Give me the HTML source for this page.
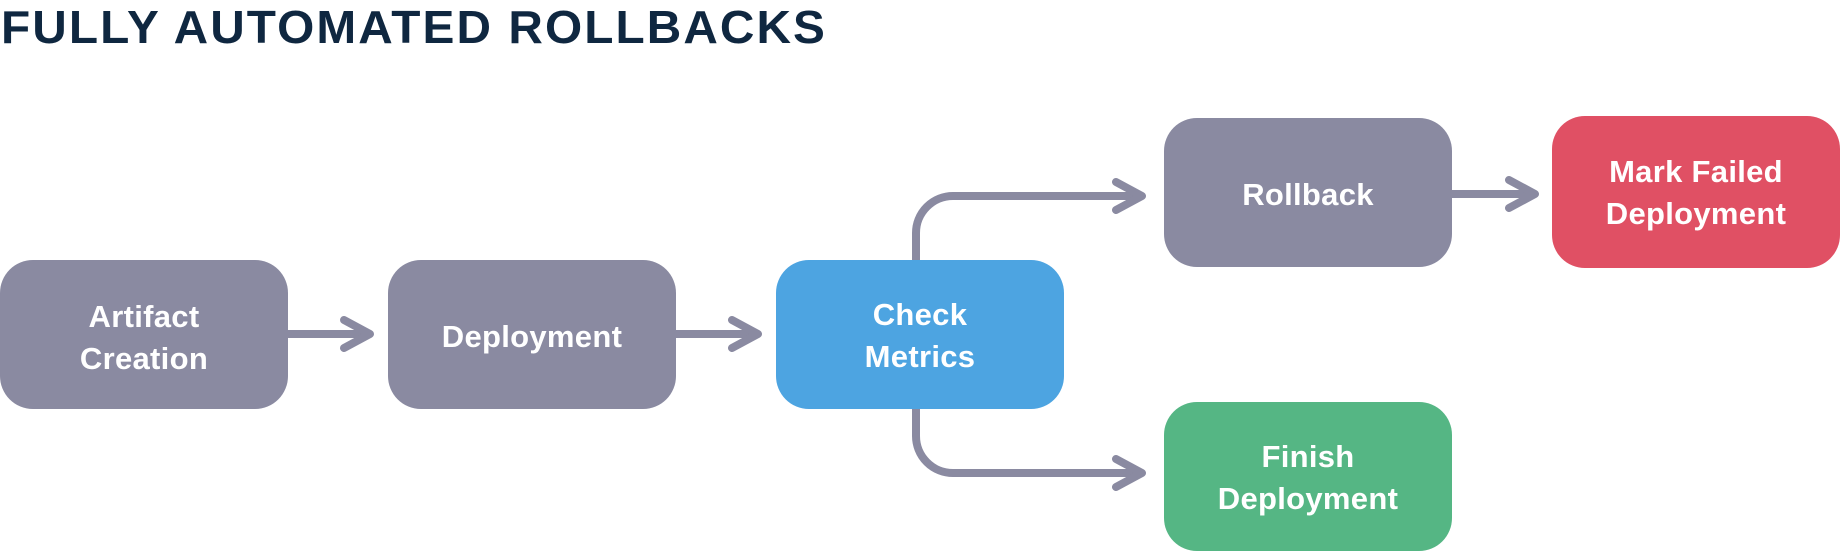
<!DOCTYPE html>
<html><head><meta charset="utf-8"><style>
html,body{margin:0;padding:0;background:#fff;width:1840px;height:552px;overflow:hidden}
</style></head><body>
<svg width="1840" height="552" viewBox="0 0 1840 552" xmlns="http://www.w3.org/2000/svg" font-family="Liberation Sans, sans-serif" font-weight="bold">
<text x="1" y="43" font-size="46" fill="#0f2740" textLength="826" lengthAdjust="spacingAndGlyphs" letter-spacing="2">FULLY AUTOMATED ROLLBACKS</text>
<g fill="none" stroke="#8a8aa1" stroke-width="8" stroke-linecap="round" stroke-linejoin="round">
<line x1="288" y1="334" x2="368" y2="334"/><polyline points="344,320 370,334 344,348"/>
<line x1="676" y1="334" x2="756" y2="334"/><polyline points="732,320 758,334 732,348"/>
<path d="M916 260 V233 A37 37 0 0 1 953 196 H1138"/><polyline points="1116,182 1142,196 1116,210"/>
<path d="M916 409 V436 A37 37 0 0 0 953 473 H1138"/><polyline points="1116,459 1142,473 1116,487"/>
<line x1="1452" y1="194" x2="1531" y2="194"/><polyline points="1509,180 1535,194 1509,208"/>
</g>
<rect x="0" y="260" width="288" height="149" rx="33" fill="#8a8aa1"/>
<rect x="388" y="260" width="288" height="149" rx="33" fill="#8a8aa1"/>
<rect x="776" y="260" width="288" height="149" rx="33" fill="#4da4e1"/>
<rect x="1164" y="118" width="288" height="149" rx="33" fill="#8a8aa1"/>
<rect x="1552" y="116" width="288" height="152" rx="33" fill="#e05064"/>
<rect x="1164" y="402" width="288" height="149" rx="33" fill="#55b684"/>
<g fill="#fff" font-size="31" text-anchor="middle" letter-spacing="0.3">
<text x="144" y="327">Artifact</text><text x="144" y="369">Creation</text>
<text x="532" y="347">Deployment</text>
<text x="920" y="325">Check</text><text x="920" y="367">Metrics</text>
<text x="1308" y="205">Rollback</text>
<text x="1696" y="182">Mark Failed</text><text x="1696" y="224">Deployment</text>
<text x="1308" y="467">Finish</text><text x="1308" y="509">Deployment</text>
</g>
</svg>
</body></html>
